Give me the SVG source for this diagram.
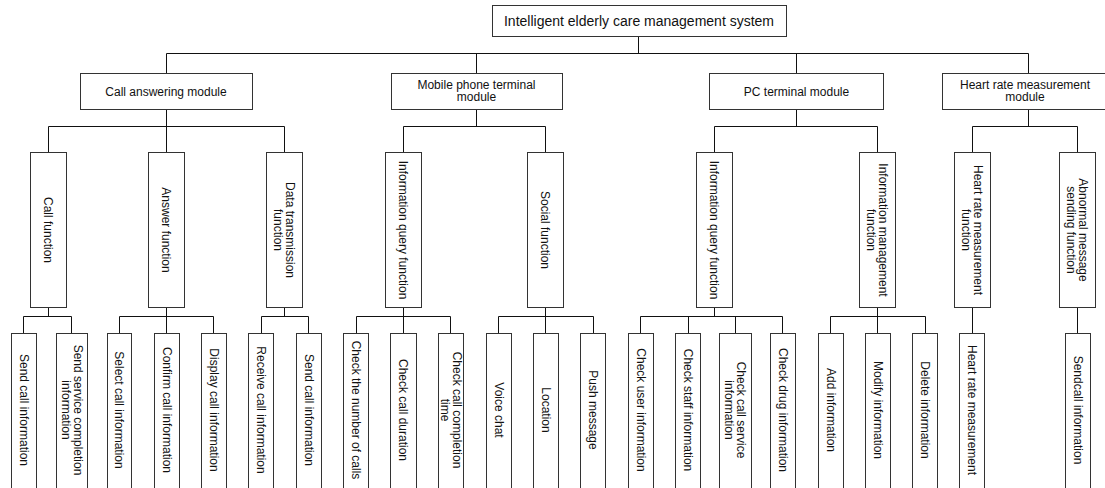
<svg xmlns="http://www.w3.org/2000/svg" width="1105" height="488" viewBox="0 0 1105 488">
<style>
rect{fill:#fff;stroke:#333;stroke-width:1}
text{font-family:"Liberation Sans",Arial,sans-serif;font-size:12px;fill:#111;text-anchor:middle}
.root{font-size:14px}
#connectors path{fill:none;stroke:#111;stroke-width:1}
</style>
<rect x="0" y="0" width="1105" height="488" style="stroke:none;fill:#fff"/>
<g id="connectors">
<path d="M638.5 36.5V53.5M166.5 53.5H1028.5M166.5 53.5V73.5M476.5 53.5V73.5M796.5 53.5V73.5M1028.5 53.5V73.5"/>
<path d="M166.5 109.5V126.5M48.5 126.5H284.5M48.5 126.5V152.5M166.5 126.5V152.5M284.5 126.5V152.5"/>
<path d="M476.5 109.5V126.5M403.5 126.5H545.5M403.5 126.5V152.5M545.5 126.5V152.5"/>
<path d="M796.5 109.5V126.5M714.5 126.5H877.5M714.5 126.5V152.5M877.5 126.5V152.5"/>
<path d="M1028.5 109.5V126.5M972.5 126.5H1077.5M972.5 126.5V152.5M1077.5 126.5V152.5"/>
<path d="M48.5 307.5V316.5M23.5 316.5H71.5M23.5 316.5V333.5M71.5 316.5V333.5"/>
<path d="M166.5 307.5V316.5M119.5 316.5H213.5M119.5 316.5V333.5M166.5 316.5V333.5M213.5 316.5V333.5"/>
<path d="M284.5 307.5V316.5M261.5 316.5H308.5M261.5 316.5V333.5M308.5 316.5V333.5"/>
<path d="M403.5 307.5V316.5M356.5 316.5H450.5M356.5 316.5V333.5M403.5 316.5V333.5M450.5 316.5V333.5"/>
<path d="M545.5 307.5V316.5M498.5 316.5H593.5M498.5 316.5V333.5M545.5 316.5V333.5M593.5 316.5V333.5"/>
<path d="M714.5 307.5V316.5M640.5 316.5H782.5M640.5 316.5V333.5M688.5 316.5V333.5M735.5 316.5V333.5M782.5 316.5V333.5"/>
<path d="M877.5 307.5V316.5M830.5 316.5H925.5M830.5 316.5V333.5M877.5 316.5V333.5M925.5 316.5V333.5"/>
<path d="M972.5 307.5V333.5M1077.5 307.5V333.5"/>
</g>
<g id="root"><rect x="492.5" y="5.5" width="294" height="31"/><text class="root" x="639" y="26">Intelligent elderly care management system</text></g>
<g id="m-call"><rect x="80.5" y="73.5" width="172" height="36"/><text x="166" y="95.5">Call answering module</text></g>
<g id="m-mobile"><rect x="391.5" y="73.5" width="171" height="36"/><text x="476.5" y="89">Mobile phone terminal</text><text x="476.5" y="101">module</text></g>
<g id="m-pc"><rect x="709.5" y="73.5" width="174" height="36"/><text x="796.5" y="95.5">PC terminal module</text></g>
<g id="m-heart"><rect x="942.5" y="73.5" width="166" height="36"/><text x="1025" y="89">Heart rate measurement</text><text x="1025" y="101">module</text></g>
<g id="f-call"><rect x="30.5" y="152.5" width="36" height="155"/><text transform="translate(48.5,230) rotate(90)" y="4.3">Call function</text></g>
<g id="f-answer"><rect x="148.5" y="152.5" width="36" height="155"/><text transform="translate(166.5,230) rotate(90)" y="4.3">Answer function</text></g>
<g id="f-data"><rect x="266.5" y="152.5" width="36" height="155"/><text transform="translate(284.5,230) rotate(90)"><tspan x="0" y="-1.7">Data transmission</tspan><tspan x="0" y="10.3">function</tspan></text></g>
<g id="f-mquery"><rect x="385.5" y="152.5" width="36" height="155"/><text transform="translate(403.5,230) rotate(90)" y="4.3">Information query function</text></g>
<g id="f-social"><rect x="527.5" y="152.5" width="36" height="155"/><text transform="translate(545.5,230) rotate(90)" y="4.3">Social function</text></g>
<g id="f-pquery"><rect x="696.5" y="152.5" width="36" height="155"/><text transform="translate(714.5,230) rotate(90)" y="4.3">Information query function</text></g>
<g id="f-manage"><rect x="859.5" y="152.5" width="36" height="155"/><text transform="translate(877.5,230) rotate(90)"><tspan x="0" y="-1.7">Information management</tspan><tspan x="0" y="10.3">function</tspan></text></g>
<g id="f-heart"><rect x="954.5" y="152.5" width="36" height="155"/><text transform="translate(972.5,230) rotate(90)"><tspan x="0" y="-1.7">Heart rate measurement</tspan><tspan x="0" y="10.3">function</tspan></text></g>
<g id="f-abnormal"><rect x="1059.5" y="152.5" width="36" height="155"/><text transform="translate(1077.5,230) rotate(90)"><tspan x="0" y="-1.7">Abnormal message</tspan><tspan x="0" y="10.3">sending function</tspan></text></g>
<g id="l1"><rect x="11.5" y="333.5" width="25" height="170"/><text transform="translate(24,410) rotate(90)" y="4.3">Send call information</text></g>
<g id="l2"><rect x="56.5" y="333.5" width="31" height="170"/><text transform="translate(72,410) rotate(90)"><tspan x="0" y="-1.7">Send service completion</tspan><tspan x="0" y="10.3">information</tspan></text></g>
<g id="l3"><rect x="107.5" y="333.5" width="24" height="170"/><text transform="translate(119.5,410) rotate(90)" y="4.3">Select call information</text></g>
<g id="l4"><rect x="154.5" y="333.5" width="25" height="170"/><text transform="translate(167,410) rotate(90)" y="4.3">Confirm call information</text></g>
<g id="l5"><rect x="201.5" y="333.5" width="25" height="170"/><text transform="translate(214,410) rotate(90)" y="4.3">Display call information</text></g>
<g id="l6"><rect x="248.5" y="333.5" width="25" height="170"/><text transform="translate(261,410) rotate(90)" y="4.3">Receive call information</text></g>
<g id="l7"><rect x="296.5" y="333.5" width="25" height="170"/><text transform="translate(309,410) rotate(90)" y="4.3">Send call information</text></g>
<g id="l8"><rect x="343.5" y="333.5" width="25" height="170"/><text transform="translate(356,410) rotate(90)" y="4.3">Check the number of calls</text></g>
<g id="l9"><rect x="390.5" y="333.5" width="26" height="170"/><text transform="translate(403.5,410) rotate(90)" y="4.3">Check call duration</text></g>
<g id="l10"><rect x="438.5" y="333.5" width="25" height="170"/><text transform="translate(451,410) rotate(90)"><tspan x="0" y="-1.7">Check call completion</tspan><tspan x="0" y="10.3">time</tspan></text></g>
<g id="l11"><rect x="486.5" y="333.5" width="25" height="170"/><text transform="translate(499,410) rotate(90)" y="4.3">Voice chat</text></g>
<g id="l12"><rect x="533.5" y="333.5" width="25" height="170"/><text transform="translate(546,410) rotate(90)" y="4.3">Location</text></g>
<g id="l13"><rect x="580.5" y="333.5" width="25" height="170"/><text transform="translate(593,410) rotate(90)" y="4.3">Push message</text></g>
<g id="l14"><rect x="628.5" y="333.5" width="25" height="170"/><text transform="translate(641,410) rotate(90)" y="4.3">Check user information</text></g>
<g id="l15"><rect x="675.5" y="333.5" width="25" height="170"/><text transform="translate(688,410) rotate(90)" y="4.3">Check staff information</text></g>
<g id="l16"><rect x="719.5" y="333.5" width="32" height="170"/><text transform="translate(735.5,410) rotate(90)"><tspan x="0" y="-1.7">Check call service</tspan><tspan x="0" y="10.3">information</tspan></text></g>
<g id="l17"><rect x="770.5" y="333.5" width="25" height="170"/><text transform="translate(783,410) rotate(90)" y="4.3">Check drug information</text></g>
<g id="l18"><rect x="818.5" y="333.5" width="25" height="170"/><text transform="translate(831,410) rotate(90)" y="4.3">Add information</text></g>
<g id="l19"><rect x="865.5" y="333.5" width="25" height="170"/><text transform="translate(878,410) rotate(90)" y="4.3">Modify information</text></g>
<g id="l20"><rect x="912.5" y="333.5" width="25" height="170"/><text transform="translate(925,410) rotate(90)" y="4.3">Delete information</text></g>
<g id="l21"><rect x="959.5" y="333.5" width="25" height="170"/><text transform="translate(972,410) rotate(90)" y="4.3">Heart rate measurement</text></g>
<g id="l22"><rect x="1065.5" y="333.5" width="25" height="170"/><text transform="translate(1078,410) rotate(90)" y="4.3">Sendcall information</text></g>
</svg>
